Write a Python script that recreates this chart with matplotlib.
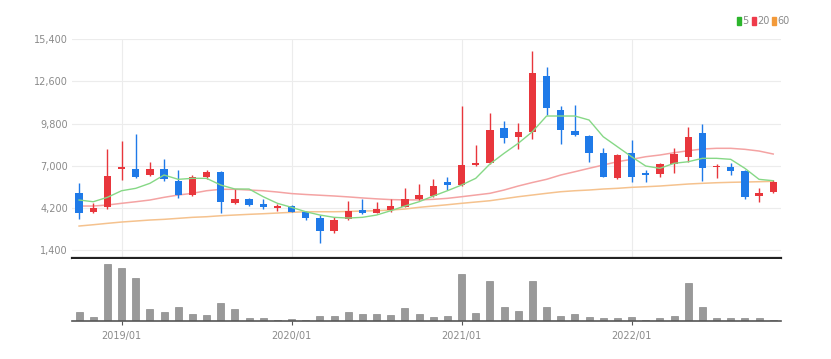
import numpy as np
import pandas as pd
import matplotlib
matplotlib.use('Agg')
import matplotlib.pyplot as plt

# monthly candles, 2018/10 .. 2022/11
months = pd.date_range('2018-10-01', periods=50, freq='MS')

opens = [5207, 3924, 4236, 6761, 6781, 6383, 6781, 6004, 5034, 6270,
         6562, 4542, 4768, 4436, 4210, 4323, 3904, 3505, 2681, 3439,
         4057, 3877, 4057, 4276, 4768, 4987, 5918, 5718, 7027, 7160,
         9526, 8928, 9260, 12981, 10702, 9307, 8974, 7865, 6163, 7825,
         6496, 6429, 7114, 7599, 9194, 6894, 6894, 6668, 4987, 5233]
closes = [3838, 4190, 6316, 6934, 6230, 6781, 6117, 5034, 6230, 6602,
          4589, 4768, 4409, 4236, 4303, 3944, 3505, 2681, 3393, 3990,
          3877, 4103, 4323, 4768, 5054, 5652, 5698, 7047, 7200, 9373,
          8821, 9220, 13141, 10815, 9373, 9041, 7865, 6270, 7712, 6230,
          6383, 7094, 7778, 8928, 6828, 7001, 6668, 4941, 5207, 5938]
highs = [5871, 4542, 8090, 8662, 9107, 7247, 7446, 6715, 6383, 6715,
         6649, 5453, 4830, 4768, 4456, 4400, 4000, 3725, 3572, 4655,
         4768, 4608, 4768, 5499, 5785, 6097, 6270, 10968, 8376, 10483,
         9991, 9858, 14642, 13579, 10968, 11034, 9041, 8157, 7780, 8708,
         6715, 7200, 8157, 9552, 9752, 7114, 7200, 6715, 5499, 6050]
lows = [3439, 3838, 4150, 6050, 6200, 6300, 6004, 4854, 4987, 6137,
        3838, 4456, 4350, 4143, 4010, 3900, 3393, 1864, 2549, 3400,
        3791, 3830, 3944, 4236, 4700, 4900, 5386, 5650, 6980, 7100,
        8529, 8090, 8755, 10370, 8423, 8990, 7267, 6230, 6150, 5938,
        5938, 6270, 6536, 7267, 6004, 6163, 6383, 4768, 4608, 5200]

ma5 = [4722, 4608, 4901, 5339, 5499, 5831, 6383, 6097, 6163, 6163,
       5718, 5453, 5453, 4941, 4503, 4236, 3944, 3725, 3572, 3525,
       3572, 3725, 4010, 4323, 4608, 4987, 5339, 5718, 6163, 7114,
       7825, 8489, 9260, 10303, 10303, 10303, 10038, 8928, 8263, 7599,
       6981, 6828, 7160, 7267, 7492, 7492, 7426, 6828, 6097, 6004]
ma20 = [4323, 4323, 4390, 4503, 4608, 4722, 4901, 5054, 5167, 5339,
        5433, 5433, 5386, 5339, 5253, 5150, 5090, 5040, 4990, 4930,
        4860, 4800, 4750, 4730, 4730, 4768, 4834, 4941, 5054, 5167,
        5386, 5652, 5885, 6097, 6383, 6602, 6828, 7047, 7267, 7426,
        7599, 7712, 7865, 7997, 8110, 8157, 8157, 8090, 7977, 7778]
ma60 = [2994, 3080, 3173, 3260, 3326, 3393, 3439, 3505, 3572, 3612,
        3678, 3725, 3771, 3811, 3858, 3904, 3944, 3944, 3944, 3960,
        3990, 4010, 4057, 4123, 4236, 4323, 4409, 4503, 4589, 4675,
        4808, 4941, 5054, 5167, 5273, 5339, 5386, 5453, 5499, 5565,
        5605, 5652, 5718, 5785, 5831, 5871, 5898, 5918, 5938, 5964]

# volume (relative units)
volume = [8.3, 3.3, 54, 50, 40.7, 11.7, 8.3, 13.3, 6.7, 6,
          16.7, 11.7, 2.7, 2.7, 1.3, 1.7, 1.3, 5, 5, 8,
          6.7, 6.7, 6, 12.3, 6.7, 4, 4.3, 44, 7.7, 37.3,
          12.7, 9.3, 37.7, 13.3, 5, 6.7, 3.7, 2.7, 2.7, 3.3,
          1.3, 2.7, 4.7, 35.7, 13.3, 3, 3, 3, 3, 1.3]

yticks = [1400, 4200, 7000, 9800, 12600, 15400]
xtick_labels = ['2019/01', '2020/01', '2021/01', '2022/01']

RED = '#e8363c'
BLUE = '#1f7ae8'
GRID = '#ececec'
TXT = '#8a8a8a'
FONT = ['Liberation Sans Narrow', 'DejaVu Sans']

W, H = 831, 359
fig = plt.figure(figsize=(W / 100, H / 100), dpi=100)

def box(x0, y0, x1, y1):
    return [x0 / W, 1 - y1 / H, (x1 - x0) / W, (y1 - y0) / H]

ax = fig.add_axes(box(72, 39.3, 781, 258))
axv = fig.add_axes(box(72, 259, 781, 321), sharex=ax)

x = np.arange(len(months))
o = np.array(opens); c = np.array(closes)
up = c >= o
cols = np.where(up, RED, BLUE)
bottom = np.minimum(o, c)
height = np.maximum(np.abs(c - o), 60)

ax.vlines(x, lows, highs, colors=cols, linewidth=1, zorder=3)
ax.bar(x, height, bottom=bottom, width=0.52, color=cols, zorder=4)
ax.plot(x, ma5, color='#86d886', linewidth=1, zorder=5)
ax.plot(x, ma20, color='#f4a3a3', linewidth=1.1, zorder=2)
ax.plot(x, ma60, color='#f5c28e', linewidth=1.1, zorder=2)

ax.set_ylim(870, 15400)
ax.set_xlim(-0.5, len(months) - 0.45)
ax.set_yticks(yticks)
ax.set_yticklabels([f'{v:,}' for v in yticks], color=TXT, fontsize=7, family=FONT)
ax.grid(axis='y', color=GRID, linewidth=0.8, zorder=0)

year_idx = [list(months).index(pd.Timestamp(s.replace('/', '-') + '-01')) for s in xtick_labels]
ax.set_xticks(year_idx)
for xi in year_idx:
    ax.axvline(xi, color=GRID, linewidth=0.8, zorder=0)
ax.tick_params(axis='x', length=0, labelbottom=False)
ax.tick_params(axis='y', length=0, pad=3)
for s in ['top', 'left', 'right']:
    ax.spines[s].set_visible(False)
ax.spines['bottom'].set_color('#222222')
ax.spines['bottom'].set_linewidth(1.6)

axv.bar(x, volume, width=0.5, color='#999999', edgecolor='#8a8a8a', linewidth=0.5)
axv.set_ylim(0, max(volume) * 1.08)
axv.set_yticks([])
for s in ['top', 'left', 'right']:
    axv.spines[s].set_visible(False)
axv.spines['bottom'].set_color('#555555')
axv.spines['bottom'].set_linewidth(1.2)
axv.set_xticks(year_idx)
axv.set_xticklabels(xtick_labels, color=TXT, fontsize=7, family=FONT)
axv.tick_params(axis='x', length=3, width=0.8, color='#555555', pad=4)

# legend, top right
lx = 737
for label, col in [('5', '#2cb52c'), ('20', '#ef3b4b'), ('60', '#f39a3a')]:
    fig.patches.append(plt.Rectangle((lx / W, 1 - 25 / H), 4 / W, 8 / H,
                                     transform=fig.transFigure, color=col))
    fig.text((lx + 5.5) / W, 1 - 21 / H, label, color=TXT, fontsize=7,
             family=FONT, va='center', ha='left')
    lx += 6 + 5 * len(label) + 4

fig.savefig('out.png', dpi=100)
